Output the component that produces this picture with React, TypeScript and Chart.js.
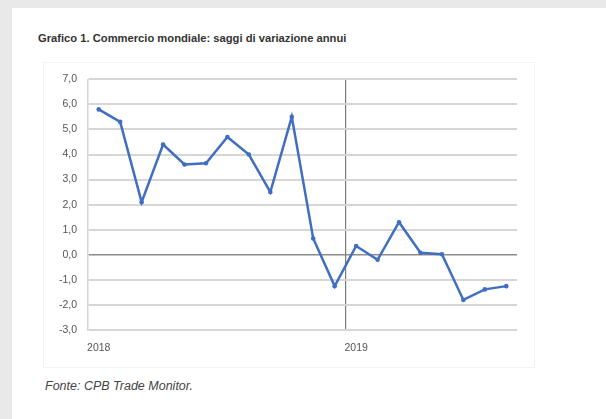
import React, { useEffect, useRef } from "react";
import { Chart, registerables } from "chart.js";

Chart.register(...registerables);

const TITLE = "Grafico 1. Commercio mondiale: saggi di variazione annui";
const SOURCE = "Fonte: CPB Trade Monitor.";

const categories = [
  "2018-01", "2018-02", "2018-03", "2018-04", "2018-05", "2018-06",
  "2018-07", "2018-08", "2018-09", "2018-10", "2018-11", "2018-12",
  "2019-01", "2019-02", "2019-03", "2019-04", "2019-05", "2019-06",
  "2019-07", "2019-08",
];

const tradeGrowth = [
  5.8, 5.3, 2.1, 4.4, 3.6, 3.65, 4.7, 4.0, 2.5, 5.5, 0.65, -1.25,
  0.35, -0.2, 1.3, 0.08, 0.02, -1.8, -1.38, -1.25,
];

const yMin = -3;
const yMax = 7;
const yStep = 1;

export default function App() {
  const ref = useRef<HTMLCanvasElement | null>(null);

  useEffect(() => {
    if (!ref.current) return;
    const yearStart = categories.map((c, i) => (c.endsWith("-01") ? i : -1)).filter((i) => i > 0);
    const chart = new Chart(ref.current, {
      type: "line",
      data: {
        labels: categories,
        datasets: [
          {
            data: tradeGrowth,
            borderColor: "#3f6ec2",
            backgroundColor: "#3f6ec2",
            borderWidth: 2.5,
            pointRadius: 2.3,
            pointBorderWidth: 0,
            pointBackgroundColor: "#3f6ec2",
            tension: 0,
          },
        ],
      },
      options: {
        animation: false,
        responsive: false,
        maintainAspectRatio: false,
        layout: { padding: { top: 15, right: 18, left: 0, bottom: 0 } },
        plugins: { legend: { display: false }, tooltip: { enabled: false } },
        scales: {
          x: {
            type: "category",
            offset: true,
            afterFit: (s: any) => {
              s.height = 38;
            },
            grid: {
              offset: true,
              drawTicks: false,
              lineWidth: 1.2,
              color: (ctx: any) => (yearStart.includes(ctx.index) ? "#7a7a7a" : "rgba(0,0,0,0)"),
            },
            border: { display: false },
            ticks: {
              autoSkip: false,
              maxRotation: 0,
              minRotation: 0,
              padding: 12,
              color: "#555",
              font: { family: "Liberation Sans", size: 10.5 },
              callback: (_v: any, i: number) => {
                const c = categories[i];
                return c && c.endsWith("-01") ? c.slice(0, 4) : "";
              },
            },
          },
          y: {
            min: yMin,
            max: yMax,
            afterFit: (s: any) => {
              s.width = 45;
            },
            grid: {
              drawTicks: false,
              lineWidth: (ctx: any) => (ctx.tick && ctx.tick.value === 0 ? 1.5 : 2),
              color: (ctx: any) => (ctx.tick && ctx.tick.value === 0 ? "#8c8c8c" : "#d6d6d6"),
            },
            border: { display: true, color: "#d4d4d4", width: 1.5 },
            ticks: {
              stepSize: yStep,
              padding: 11,
              color: "#555",
              font: { family: "Liberation Sans", size: 10.5 },
              callback: (v: any) => Number(v).toFixed(1).replace(".", ","),
            },
          },
        },
      },
    });
    return () => chart.destroy();
  }, []);

  return (
    <div
      style={{
        position: "fixed",
        left: 0,
        top: 0,
        width: 606,
        height: 419,
        background: "#ffffff",
        overflow: "hidden",
        filter: "blur(0.4px)",
      }}
    >
      <div style={{ position: "absolute", left: 0, top: 0, width: 606, height: 8, background: "#e8e9e8" }} />
      <div style={{ position: "absolute", left: 0, top: 0, width: 12, height: 419, background: "#e8e9e8" }} />
      <div
        style={{
          position: "absolute",
          left: 38,
          top: 31,
          fontFamily: "Liberation Sans",
          fontWeight: "bold",
          fontSize: 11.2,
          color: "#333",
          whiteSpace: "nowrap",
          lineHeight: "14px",
        }}
      >
        {TITLE}
      </div>
      <div
        style={{
          position: "absolute",
          left: 43,
          top: 62,
          width: 490,
          height: 304,
          border: "1px solid #f3f3f3",
        }}
      />
      <canvas
        ref={ref}
        width={492}
        height={306}
        style={{ position: "absolute", left: 43, top: 62, width: 492, height: 306 }}
      />
      <div
        style={{
          position: "absolute",
          left: 45,
          top: 377,
          fontFamily: "Liberation Sans",
          fontStyle: "italic",
          fontSize: 12.5,
          color: "#444",
          whiteSpace: "nowrap",
          lineHeight: "18px",
        }}
      >
        {SOURCE}
      </div>
    </div>
  );
}
